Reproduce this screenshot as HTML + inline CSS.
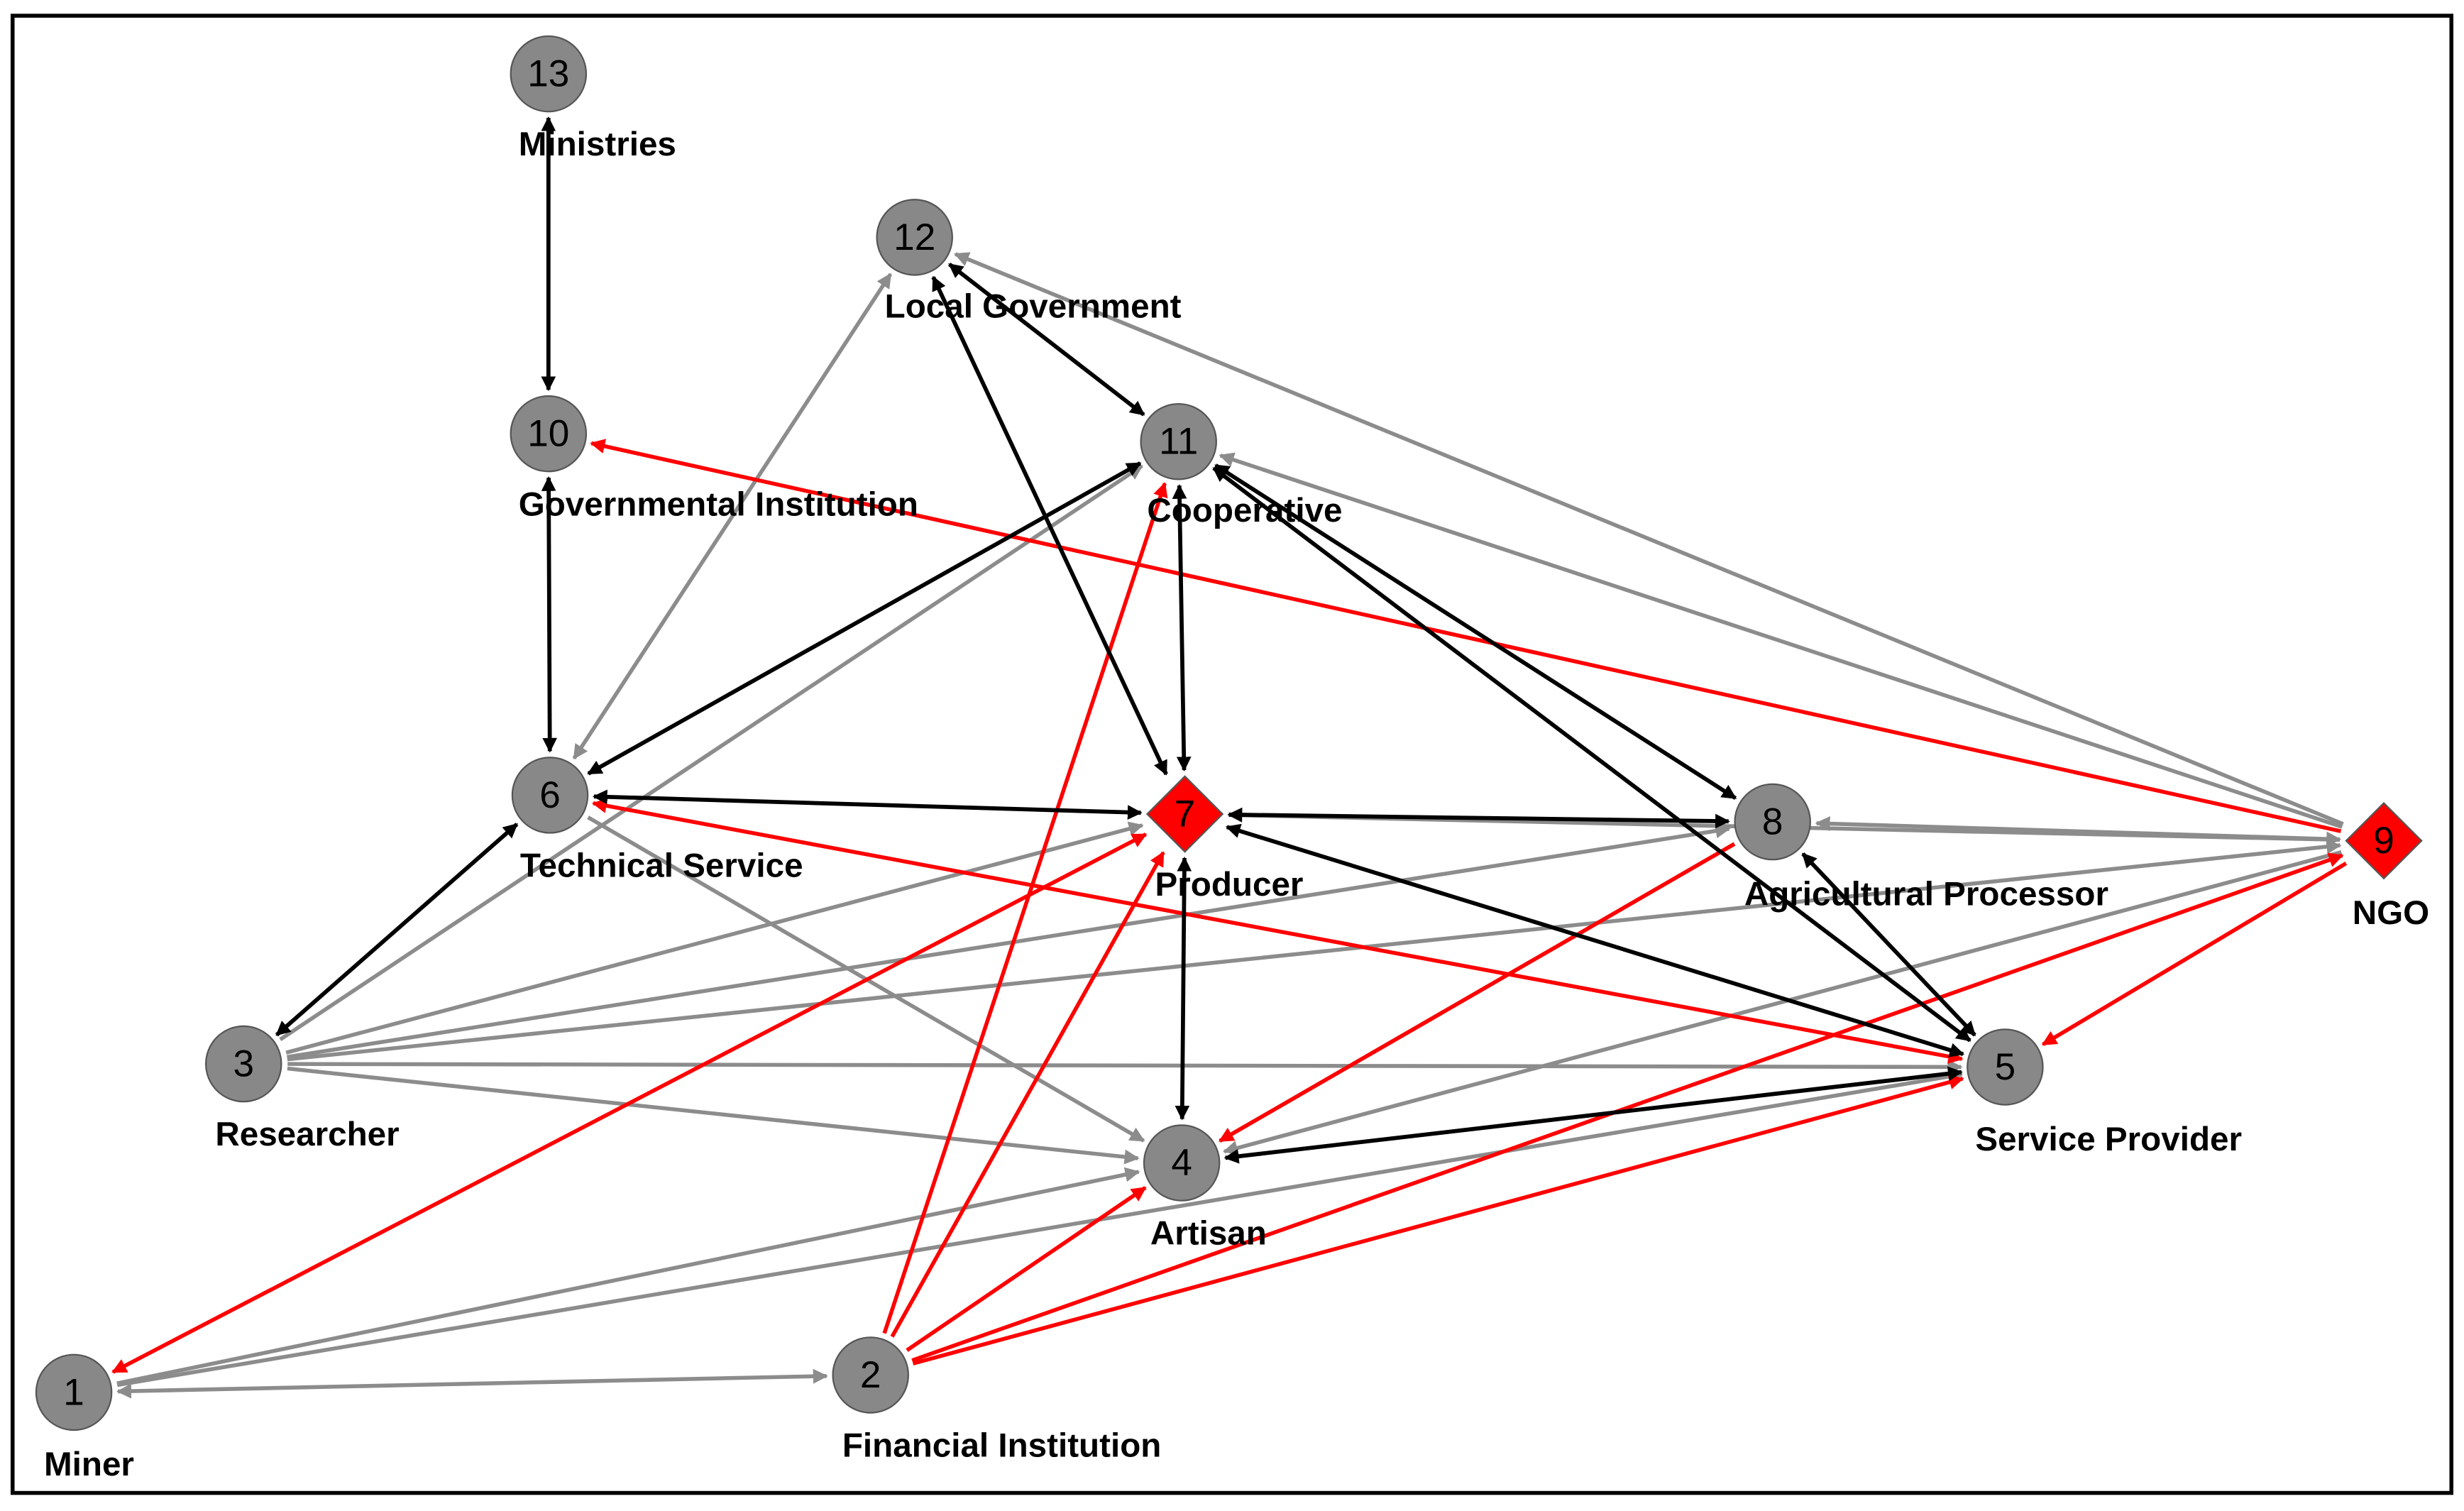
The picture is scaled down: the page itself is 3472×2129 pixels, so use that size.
<!DOCTYPE html>
<html><head><meta charset="utf-8"><style>
html,body{margin:0;padding:0;background:#fff;width:3472px;height:2129px;overflow:hidden}
svg{display:block}
.lb{font-family:"Liberation Sans",sans-serif;font-weight:bold;font-size:21.5px;fill:#000}
.nm{font-family:"Liberation Sans",sans-serif;font-size:24px;fill:#000;text-anchor:middle;dominant-baseline:central}
</style></head><body>
<svg id="s" width="3472" height="2129" viewBox="0 0 1568 961.5" xmlns="http://www.w3.org/2000/svg">
<defs>
<marker id="mk" viewBox="0 0 10 10" refX="9" refY="5" markerWidth="3.6" markerHeight="3.6" orient="auto-start-reverse"><path d="M0,0 L10,5 L0,10 z" fill="#000"/></marker>
<marker id="mg" viewBox="0 0 10 10" refX="9" refY="5" markerWidth="3.8" markerHeight="3.8" orient="auto-start-reverse"><path d="M0,0 L10,5 L0,10 z" fill="#8c8c8c"/></marker>
<marker id="mr" viewBox="0 0 10 10" refX="9" refY="5" markerWidth="3.8" markerHeight="3.8" orient="auto-start-reverse"><path d="M0,0 L10,5 L0,10 z" fill="#f00"/></marker>
</defs>
<rect x="8" y="10" width="1552" height="940" fill="none" stroke="#000" stroke-width="2.5"/>
<g id="edges"></g>
<g id="nodes" stroke="#555" stroke-width="1">
<circle cx="349" cy="47" r="24" fill="#888"/>
<circle cx="349" cy="276" r="24" fill="#888"/>
<circle cx="582" cy="151" r="24" fill="#888"/>
<circle cx="750" cy="281" r="24" fill="#888"/>
<circle cx="350" cy="506" r="24" fill="#888"/>
<circle cx="1128" cy="523" r="24" fill="#888"/>
<circle cx="155" cy="677" r="24" fill="#888"/>
<circle cx="1276" cy="679" r="24" fill="#888"/>
<circle cx="752" cy="740" r="24" fill="#888"/>
<circle cx="47" cy="886" r="24" fill="#888"/>
<circle cx="554" cy="875" r="24" fill="#888"/>
<path d="M754,494 L778,518 L754,542 L730,518 z" fill="#f00"/>
<path d="M1517,511 L1541,535 L1517,559 L1493,535 z" fill="#f00"/>
</g>
<g>
<text class="nm" x="349" y="47">13</text>
<text class="nm" x="349" y="276">10</text>
<text class="nm" x="582" y="151">12</text>
<text class="nm" x="750" y="281">11</text>
<text class="nm" x="350" y="506">6</text>
<text class="nm" x="754" y="518">7</text>
<text class="nm" x="1128" y="523">8</text>
<text class="nm" x="1517" y="535">9</text>
<text class="nm" x="155" y="677">3</text>
<text class="nm" x="1276" y="679">5</text>
<text class="nm" x="752" y="740">4</text>
<text class="nm" x="47" y="886">1</text>
<text class="nm" x="554" y="875">2</text>
</g>
<g>
<text class="lb" x="330" y="99">Ministries</text>
<text class="lb" x="563" y="202">Local Government</text>
<text class="lb" x="330" y="328">Governmental Institution</text>
<text class="lb" x="730" y="332">Cooperative</text>
<text class="lb" x="331" y="558">Technical Service</text>
<text class="lb" x="735" y="570">Producer</text>
<text class="lb" x="1110" y="576">Agricultural Processor</text>
<text class="lb" x="1497" y="588">NGO</text>
<text class="lb" x="137" y="729">Researcher</text>
<text class="lb" x="1257" y="732">Service Provider</text>
<text class="lb" x="732" y="792">Artisan</text>
<text class="lb" x="28" y="939">Miner</text>
<text class="lb" x="536" y="927">Financial Institution</text>
</g>
</svg>
<script>
var N={13:[349,47],10:[349,276],12:[582,151],11:[750,281],6:[350,506],7:[754,518],8:[1128,523],9:[1517,535],3:[155,677],5:[1276,679],4:[752,740],1:[47,886],2:[554,875]};
var E=[
[9,12,'g',0],[9,11,'g',0],[6,12,'g',1],[3,11,'g',0],[6,4,'g',0],[3,7,'g',0],[3,8,'g',0],[3,9,'g',0],[3,5,'g',0],[3,4,'g',0],
[8,9,'g',1],[9,4,'g',0],[8,4,'g',0],[5,4,'g',0],[1,4,'g',0],[1,5,'g',0],[1,2,'g',1],[9,7,'g',0],
[9,10,'r',0],[6,5,'r',1],[9,5,'r',0],[2,9,'r',0],[2,11,'r',0],[2,7,'r',0],[2,4,'r',0],[2,5,'r',0],[7,1,'r',1],[8,4,'r',0],
[13,10,'k',1],[10,6,'k',1],[12,11,'k',1],[12,7,'k',1],[11,6,'k',1],[11,7,'k',1],[11,8,'k',1],[11,5,'k',1],[6,7,'k',1],[7,8,'k',1],[7,5,'k',1],[7,4,'k',1],[6,3,'k',1],[8,5,'k',1],[4,5,'k',1]
];
var col={g:'#8c8c8c',r:'#f00',k:'#000'};
var g=document.getElementById('edges'),ns='http://www.w3.org/2000/svg';
E.forEach(function(e){
 var a=N[e[0]],b=N[e[1]],dx=b[0]-a[0],dy=b[1]-a[1],L=Math.sqrt(dx*dx+dy*dy),ux=dx/L,uy=dy/L,r=28;
 var l=document.createElementNS(ns,'line');
 l.setAttribute('x1',a[0]+ux*r);l.setAttribute('y1',a[1]+uy*r);
 l.setAttribute('x2',b[0]-ux*r);l.setAttribute('y2',b[1]-uy*r);
 l.setAttribute('stroke',col[e[2]]);l.setAttribute('stroke-width',e[2]=='k'?2.6:2.5);
 l.setAttribute('marker-end','url(#m'+e[2]+')');
 if(e[3])l.setAttribute('marker-start','url(#m'+e[2]+')');
 g.appendChild(l);
});
</script>
</body></html>
